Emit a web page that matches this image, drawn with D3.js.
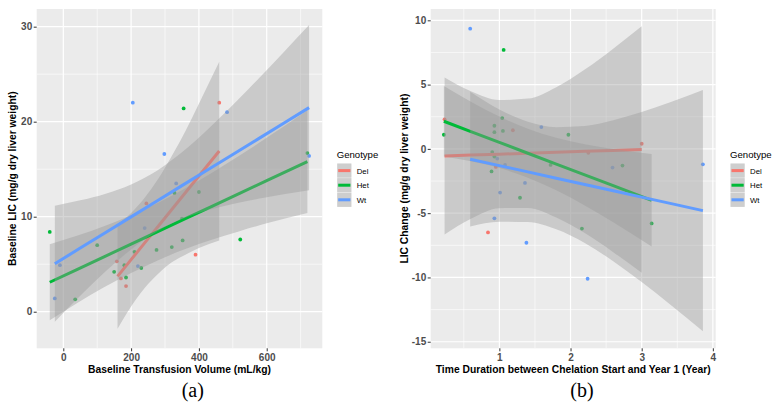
<!DOCTYPE html>
<html><head><meta charset="utf-8">
<script src="https://cdn.jsdelivr.net/npm/d3@7"></script>
<style>body{margin:0;background:#fff} svg{display:block} text{font-family:"Liberation Sans",Arial,sans-serif}</style>
</head><body>
<svg id="chart" width="780" height="407"></svg>
<script>
// ---------- data ----------
const genotypes = ["Del", "Het", "Wt"];
const groupColors = ["#F8766D", "#00BA38", "#619CFF"];

// Panel (a): Baseline transfusion volume vs baseline LIC  [x, y]
const aDelPts = [[460,22],[245,11.4],[158,5.3],[170,3.5],[185,2.7],[390,6.0]];
const aHetPts = [[355,21.4],[328,12.5],[400,12.6],[-40,8.4],[100,7.0],[352,7.5],[350,9.8],[320,6.8],[275,6.5],[210,6.3],[180,4.9],[230,4.6],[150,4.2],[185,3.6],[35,1.3],[522,7.6],[720,16.7]];
const aWtPts  = [[205,22.0],[483,21.0],[298,16.6],[333,13.5],[240,8.8],[-10,4.9],[220,4.8],[-25,1.4],[725,16.4]];
// linear fits: [x, fit, lower, upper]
const aDelFit = [[160,3.72,-1.8,9.2],[200,5.48,0.56,10.4],[240,7.24,2.5,12.0],[280,9.0,4.0,14.0],[320,10.76,5.2,16.4],[360,12.52,6.0,19.0],[400,14.28,6.7,21.9],[460,16.92,7.5,26.3]];
const aHetFit = [[-40,3.10,-0.90,7.10],[40,4.44,0.89,7.99],[120,5.78,2.57,8.99],[200,7.11,4.08,10.14],[280,8.45,5.43,11.47],[360,9.79,6.59,12.99],[440,11.12,7.59,14.65],[520,12.46,8.48,16.44],[600,13.80,9.30,18.30],[720,15.80,10.40,21.20]];
const aWtFit  = [[-25,5.05,-1.05,11.15],[50,6.70,1.68,11.72],[125,8.34,4.26,12.42],[200,9.98,6.56,13.40],[275,11.62,8.42,14.82],[350,13.27,9.76,16.78],[425,14.91,10.67,19.15],[500,16.55,11.35,21.75],[575,18.19,11.88,24.50],[650,19.84,12.36,27.32],[725,21.48,12.78,30.18]];
const aXTicks = [0,200,400,600];
const aXMinor = [100,300,500,700];
const aYTicks = [0,10,20,30];
const aYMinor = [5,15,25];
const aXTickLabels = ["0","200","400","600"];
const aYTickLabels = ["0","10","20","30"];

// Panel (b): Time between chelation start and year 1 vs LIC change
const bDelPts = [[0.23,2.3],[1.19,1.45],[0.95,-1.4],[0.84,-6.5],[3.0,0.4],[2.25,-0.3]];
const bHetPts = [[1.06,7.7],[0.22,1.1],[1.04,2.4],[0.93,1.8],[0.93,1.3],[1.05,1.4],[1.97,1.1],[0.90,-0.25],[0.93,-0.6],[0.89,-1.75],[1.72,-1.25],[1.29,-3.8],[2.16,-6.2],[2.73,-1.3],[3.14,-5.8]];
const bWtPts  = [[0.59,9.35],[1.59,1.7],[0.97,-0.75],[1.08,-1.25],[1.36,-2.65],[1.01,-3.4],[0.93,-5.4],[1.38,-7.3],[2.24,-10.1],[2.59,-1.45],[3.86,-1.2]];
const bDelFit = [[0.23,-0.55,-6.66,5.56],[0.6,-0.48,-5.44,4.48],[1.0,-0.41,-4.62,3.80],[1.4,-0.34,-4.59,3.91],[1.8,-0.27,-5.34,4.80],[2.2,-0.19,-6.55,6.17],[2.6,-0.12,-8.03,7.79],[3.0,-0.05,-9.63,9.53]];
const bHetFit = [[0.22,2.15,-0.59,4.89],[0.6,1.35,-0.96,3.66],[1.0,0.51,-1.49,2.51],[1.4,-0.34,-2.24,1.57],[1.8,-1.18,-3.22,0.86],[2.2,-2.02,-4.40,0.36],[2.6,-2.86,-5.71,-0.01],[3.14,-4.0,-7.60,-0.40]];
const bWtFit  = [[0.59,-0.8,-6.04,4.44],[1.0,-1.30,-5.66,3.06],[1.4,-1.79,-5.69,2.11],[1.8,-2.28,-6.25,1.69],[2.2,-2.77,-7.32,1.78],[2.6,-3.26,-8.74,2.22],[3.0,-3.75,-10.36,2.86],[3.4,-4.24,-12.10,3.62],[3.86,-4.80,-14.18,4.58]];
const bXTicks = [1,2,3,4];
const bXMinor = [0.5,1.5,2.5,3.5];
const bYTicks = [-15,-10,-5,0,5,10];
const bYMinor = [-12.5,-7.5,-2.5,2.5,7.5];
const bXTickLabels = ["1","2","3","4"];
const bYTickLabels = ["-15","-10","-5","0","5","10"];

// ---------- drawing ----------
const svg = d3.select("#chart");

function drawPanel(cfg) {
  const g = svg.append("g");
  const x = d3.scaleLinear().domain(cfg.xDomain).range([cfg.left, cfg.right]);
  const y = d3.scaleLinear().domain(cfg.yDomain).range([cfg.bottom, cfg.top]);

  g.append("rect").attr("x", cfg.left).attr("y", cfg.top)
    .attr("width", cfg.right - cfg.left).attr("height", cfg.bottom - cfg.top)
    .attr("fill", "#EBEBEB");

  // grid
  const grid = g.append("g").attr("stroke", "#fff").attr("fill", "none");
  cfg.yMinor.forEach(v => grid.append("line").attr("x1", cfg.left).attr("x2", cfg.right)
    .attr("y1", y(v)).attr("y2", y(v)).attr("stroke-width", 0.6));
  cfg.xMinor.forEach(v => grid.append("line").attr("y1", cfg.top).attr("y2", cfg.bottom)
    .attr("x1", x(v)).attr("x2", x(v)).attr("stroke-width", 0.6));
  cfg.yTicks.forEach(v => grid.append("line").attr("x1", cfg.left).attr("x2", cfg.right)
    .attr("y1", y(v)).attr("y2", y(v)).attr("stroke-width", 1.2));
  cfg.xTicks.forEach(v => grid.append("line").attr("y1", cfg.top).attr("y2", cfg.bottom)
    .attr("x1", x(v)).attr("x2", x(v)).attr("stroke-width", 1.2));

  // points
  cfg.points.forEach((pts, i) => {
    g.append("g").selectAll("circle").data(pts).join("circle")
      .attr("cx", d => x(d[0])).attr("cy", d => y(d[1])).attr("r", 1.9)
      .attr("fill", groupColors[i]);
  });

  // smooths (ribbon + line per group, in group order)
  const area = d3.area().x(d => x(d[0])).y0(d => y(d[2])).y1(d => y(d[3])).curve(d3.curveMonotoneX);
  const line = d3.line().x(d => x(d[0])).y(d => y(d[1]));
  cfg.fits.forEach((fit, i) => {
    g.append("path").datum(fit).attr("d", area).attr("fill", "#999999").attr("fill-opacity", 0.4);
    g.append("path").datum(fit).attr("d", line).attr("fill", "none")
      .attr("stroke", groupColors[i]).attr("stroke-width", 3);
  });

  // axes
  const yAxis = d3.axisLeft(y).tickValues(cfg.yTicks).tickSize(3).tickPadding(1.5)
    .tickFormat((d, i) => cfg.yLabels[i]);
  const xAxis = d3.axisBottom(x).tickValues(cfg.xTicks).tickSize(3).tickPadding(2.6)
    .tickFormat((d, i) => cfg.xLabels[i]);
  const ya = g.append("g").attr("transform", `translate(${cfg.left},0)`).call(yAxis);
  const xa = g.append("g").attr("transform", `translate(0,${cfg.bottom})`).call(xAxis);
  [ya, xa].forEach(a => {
    a.select(".domain").remove();
    a.selectAll(".tick line").attr("stroke", "#333").attr("stroke-width", 1);
    a.selectAll(".tick text").attr("fill", "#4D4D4D").attr("font-size", "10px")
      .attr("font-weight", "bold").style("font-family", '"Liberation Sans", Arial, sans-serif');
  });

  // axis titles
  g.append("text").attr("x", (cfg.left + cfg.right) / 2).attr("y", 373)
    .attr("text-anchor", "middle").attr("font-size", "10.3px").attr("font-weight", "bold")
    .attr("fill", "#000").text(cfg.xTitle);
  g.append("text").attr("transform", `translate(${cfg.yTitleX},${(cfg.top + cfg.bottom) / 2}) rotate(-90)`)
    .attr("text-anchor", "middle").attr("font-size", "10.3px").attr("font-weight", "bold")
    .attr("fill", "#000").text(cfg.yTitle);

  // legend
  const lg = g.append("g");
  lg.append("text").attr("x", cfg.legendX).attr("y", 158).attr("font-size", "9.6px")
    .attr("fill", "#000").text("Genotype");
  genotypes.forEach((gt, i) => {
    const ky = 163.5 + i * 14.6;
    lg.append("rect").attr("x", cfg.legendX + 0.5).attr("y", ky).attr("width", 14.2).attr("height", 14.2)
      .attr("fill", "#F2F2F2");
    lg.append("rect").attr("x", cfg.legendX + 0.5).attr("y", ky).attr("width", 14.2).attr("height", 14.2)
      .attr("fill", "#999999").attr("fill-opacity", 0.4);
    lg.append("line").attr("x1", cfg.legendX + 1.5).attr("x2", cfg.legendX + 13.7)
      .attr("y1", ky + 7.1).attr("y2", ky + 7.1).attr("stroke", groupColors[i]).attr("stroke-width", 3);
    lg.append("text").attr("x", cfg.legendX + 20).attr("y", ky + 10.3).attr("font-size", "7.8px")
      .attr("fill", "#000").text(gt);
  });

  // caption
  g.append("text").attr("x", cfg.captionX).attr("y", 397).attr("text-anchor", "middle")
    .attr("font-size", "20px").style("font-family", '"Liberation Serif", "Times New Roman", serif')
    .attr("fill", "#000").text(cfg.caption);
}

drawPanel({
  left: 36.7, right: 322.3, top: 9, bottom: 348.3,
  xDomain: [-78.5, 764], yDomain: [-3.85, 31.86],
  xTicks: aXTicks, xMinor: aXMinor, yTicks: aYTicks, yMinor: aYMinor,
  xLabels: aXTickLabels, yLabels: aYTickLabels,
  points: [aDelPts, aHetPts, aWtPts], fits: [aDelFit, aHetFit, aWtFit],
  xTitle: "Baseline Transfusion Volume (mL/kg)",
  yTitle: "Baseline LIC (mg/g dry liver weight)", yTitleX: 16,
  legendX: 336.7, caption: "(a)", captionX: 192.8
});

drawPanel({
  left: 430.7, right: 715.7, top: 9, bottom: 348.3,
  xDomain: [0.035, 4.04], yDomain: [-15.51, 10.88],
  xTicks: bXTicks, xMinor: bXMinor, yTicks: bYTicks, yMinor: bYMinor,
  xLabels: bXTickLabels, yLabels: bYTickLabels,
  points: [bDelPts, bHetPts, bWtPts], fits: [bDelFit, bHetFit, bWtFit],
  xTitle: "Time Duration between Chelation Start and Year 1 (Year)",
  yTitle: "LIC Change (mg/g dry liver weight)", yTitleX: 407.5,
  legendX: 730, caption: "(b)", captionX: 582
});
</script>
</body></html>
